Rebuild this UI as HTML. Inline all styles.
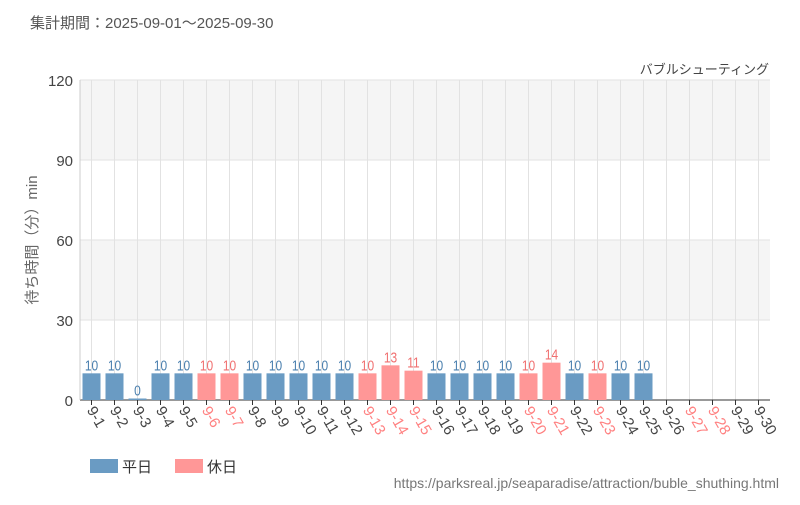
<!DOCTYPE html>
<html><head><meta charset="utf-8"><style>
body{margin:0;background:#fff;font-family:"Liberation Sans","Noto Sans CJK JP",sans-serif;}
svg text{font-family:"Liberation Sans","Noto Sans CJK JP",sans-serif;}
</style></head><body>
<svg id="chart" width="800" height="500" xmlns="http://www.w3.org/2000/svg">
<text x="30" y="28" font-size="15" fill="#555">集計期間：2025-09-01～2025-09-30</text>
<text x="769" y="74" font-size="13" fill="#444" text-anchor="end">バブルシューティング</text>
<text transform="translate(37,240) rotate(-90)" font-size="15" fill="#666" text-anchor="middle">待ち時間（分）min</text>
<g id="plot"></g>
<g>
<rect x="90" y="459" width="28" height="14" fill="#6a9bc3"/>
<text x="122" y="472" font-size="15" fill="#333">平日</text>
<rect x="175" y="459" width="28" height="14" fill="#ff9797"/>
<text x="207" y="472" font-size="15" fill="#333">休日</text>
</g>
<text x="779" y="488" font-size="14" fill="#777" text-anchor="end">https://parksreal.jp/seaparadise/attraction/buble_shuthing.html</text>
</svg>
<script>
const categories=["9-1","9-2","9-3","9-4","9-5","9-6","9-7","9-8","9-9","9-10","9-11","9-12","9-13","9-14","9-15","9-16","9-17","9-18","9-19","9-20","9-21","9-22","9-23","9-24","9-25","9-26","9-27","9-28","9-29","9-30"];
const waitValues=[10,10,0,10,10,10,10,10,10,10,10,10,10,13,11,10,10,10,10,10,14,10,10,10,10,null,null,null,null,null];
const holidayFlags=[0,0,0,0,0,1,1,0,0,0,0,0,1,1,1,0,0,0,0,1,1,0,1,0,0,0,1,1,0,0];
const yTicks=[0,30,60,90,120];
const NS="http://www.w3.org/2000/svg";
const g=document.getElementById('plot');
const L=80,R=770,T=80,B=400,yMax=120;
const y=v=>B-(v/yMax)*(B-T);
const step=(R-L)/categories.length;
const x=i=>L+step*(i+0.5);
function mk(t,a){const e=document.createElementNS(NS,t);for(const k in a)e.setAttribute(k,a[k]);g.appendChild(e);return e;}
for(let i=0;i<yTicks.length-1;i++){if(i%2===1){const b=mk('rect',{x:L,y:y(yTicks[i+1]),width:R-L,height:y(yTicks[i])-y(yTicks[i+1]),fill:'#f5f5f5'});

}}
yTicks.forEach(v=>{const l=mk('line',{x1:L,x2:R,y1:y(v),y2:y(v),stroke:'#e2e2e2'});


const t=mk('text',{x:L-7,y:y(v)+6,'font-size':15,fill:'#444','text-anchor':'end'});t.textContent=v;

});
categories.forEach((c,i)=>{const l=mk('line',{x1:x(i),x2:x(i),y1:T,y2:B+5,stroke:'#e2e2e2'});

});
const ax=mk('line',{x1:L,x2:R,y1:B,y2:B,stroke:'#333'});


const ay=mk('line',{x1:L,x2:L,y1:T,y2:B,stroke:'#ccc'});


categories.forEach((c,i)=>{const hol=holidayFlags[i];const col=hol?'#ff9797':'#6a9bc3';const tc=hol?'#f07070':'#4a7fae';
const v=waitValues[i];
if(v!==null){const h=Math.max(y(0)-y(v),1.5);
const r=mk('rect',{x:x(i)-9,y:y(0)-h,width:18,height:h,fill:col});


const t=mk('text',{x:x(i),y:y(0)-h-3,'font-size':15,fill:tc,'text-anchor':'middle',transform:`translate(${x(i)},0) scale(0.8,1) translate(${-x(i)},0)`});t.textContent=v;

}
const tl=mk('text',{x:0,y:0,'font-size':15,fill:hol?'#ff8080':'#444',transform:`translate(${x(i)-5},${B+10}) rotate(60)`});tl.textContent=c;


const tk=mk('line',{x1:x(i),x2:x(i),y1:B,y2:B+5,stroke:'#333'});

});
</script>
</body></html>
